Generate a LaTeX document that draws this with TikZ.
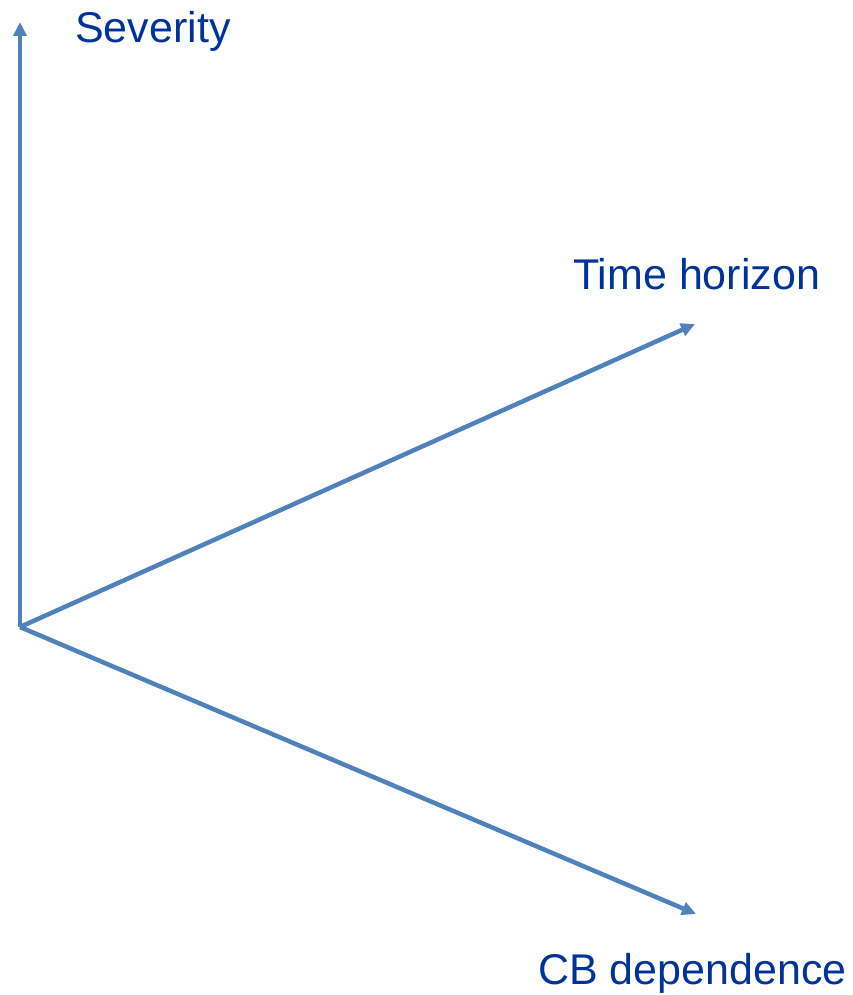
\documentclass[tikz,border=0pt]{standalone}
\usepackage{fontspec}
\setmainfont{Liberation Sans}
\usetikzlibrary{arrows.meta}
\definecolor{axiscol}{RGB}{79,129,189}
\definecolor{lblcol}{RGB}{0,51,153}

\begin{document}
\begin{tikzpicture}[
  x=1pt, y=-1pt,
  axis/.style={-{Triangle[length=14pt, width=13pt]}, line width=4.5pt, draw=axiscol},
  axislbl/.style={anchor=base west, inner sep=0pt, text=lblcol,
                  font=\fontsize{43}{50}\selectfont},
]
\useasboundingbox (0,0) rectangle (853,995);

% ---------- origin and axis ends ----------
\coordinate (o) at (20,627);
\coordinate (sev) at (20,22);
\coordinate (time) at (695,324);
\coordinate (cb) at (696,914);

% ---------- axes ----------
\draw[axis] (o) -- (sev);
\draw[axis] (o) -- (time);
\draw[axis] (o) -- (cb);

% ---------- labels ----------
\node[axislbl] (sevlbl) at (75,43) {Severity};
\node[axislbl] (timelbl) at (573,289) {Time horizon};
\node[axislbl] (cblbl) at (538,984) {CB dependence};

\end{tikzpicture}
\end{document}
